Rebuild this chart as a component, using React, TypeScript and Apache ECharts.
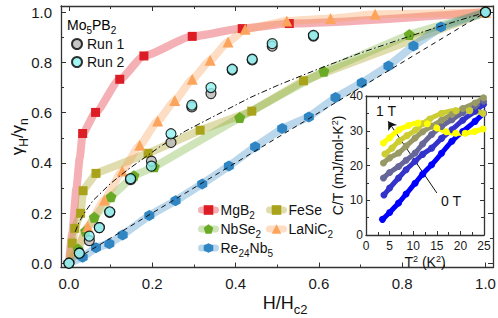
import React, { useEffect, useRef } from 'react';
import * as echarts from 'echarts';

const FONT = "'Liberation Sans', Arial, Helvetica, sans-serif";

// ---------- main panel: gamma_H/gamma_n vs H/Hc2 ----------
const mgb2Pts = [[0.033, 0.517], [0.064, 0.601], [0.122, 0.733], [0.18, 0.826], [0.296, 0.904], [0.416, 0.935], [0.529, 0.955], [1, 1]];
const mgb2Band = [[0, 0], [0.008, 0.12], [0.018, 0.3], [0.026, 0.42]];

const fesePts = [[0.008, 0.08], [0.014, 0.139], [0.028, 0.199], [0.034, 0.289], [0.065, 0.358], [0.19, 0.438], [0.315, 0.53], [0.439, 0.606], [0.563, 0.727], [1, 1]];
const feseBand = [[0, 0]];

const nbse2Pts = [[0.022, 0.057], [0.04, 0.128], [0.061, 0.183], [0.101, 0.265], [0.156, 0.349], [0.205, 0.384], [0.41, 0.581], [0.612, 0.765], [0.817, 0.911], [1, 1]];
const nbse2Band = [[0, 0]];

const lanic2Pts = [[0.045, 0.146], [0.085, 0.252], [0.128, 0.368], [0.17, 0.47], [0.213, 0.567], [0.254, 0.648], [0.296, 0.733], [0.339, 0.809], [0.382, 0.882], [0.423, 0.932], [0.523, 0.965], [0.628, 0.975], [0.735, 0.992], [1, 1]];
const lanic2Band = [[0, 0], [0.02, 0.065]];

const re24nb5Pts = [[0.033, 0.024], [0.065, 0.062], [0.097, 0.078], [0.129, 0.113], [0.193, 0.19], [0.256, 0.249], [0.32, 0.316], [0.384, 0.387], [0.447, 0.464], [0.512, 0.537], [0.576, 0.583], [0.64, 0.66], [0.703, 0.719], [0.767, 0.786], [0.827, 0.866], [0.893, 0.941], [1, 1]];
const re24nb5Band = [[0, 0]];

const run1 = [[0, 0], [0.025, 0.04], [0.049, 0.09], [0.073, 0.142], [0.098, 0.203], [0.148, 0.333], [0.198, 0.407], [0.245, 0.481], [0.295, 0.623], [0.341, 0.676], [0.392, 0.77], [0.44, 0.81], [0.488, 0.865], [0.587, 0.905], [1, 1]];
const run2 = [[0, 0], [0.025, 0.04], [0.049, 0.108], [0.073, 0.142], [0.098, 0.205], [0.148, 0.337], [0.198, 0.387], [0.245, 0.516], [0.295, 0.63], [0.341, 0.7], [0.392, 0.773], [0.44, 0.813], [0.488, 0.875], [0.587, 0.908], [1, 1]];

const dashedLine = [[0, 0], [1, 1]];
const dashDotLine = [[0.015, 0.125], [0.022, 0.155], [0.035, 0.195], [0.058, 0.25], [0.1, 0.318], [0.139, 0.37], [0.218, 0.464], [0.28, 0.527], [0.338, 0.577], [0.435, 0.66], [0.5, 0.708], [0.6, 0.775], [0.7, 0.838], [0.819, 0.905], [0.9, 0.949], [1, 1]];

// ---------- inset: C/T vs T^2 ----------
const insetColors = ['#0000ff', '#3333cc', '#666699', '#999966', '#cccc33', '#ffff00'];
const inset0 = [[3.5, 4.5], [5, 6.5], [6.9, 9.2], [8.5, 11.8], [10.4, 14.9], [12, 17.5], [13.9, 20.2], [16, 23.5], [18.2, 27], [20.5, 29.8], [23.1, 32.7], [24.9, 35]];
const inset1 = [[3.8, 11.5], [5, 13.5], [6.9, 16.4], [8.5, 18.8], [10.4, 21.2], [12, 23.2], [13.9, 25], [16, 27.8], [18.2, 30.3], [20.5, 33], [23.1, 35.6], [24.9, 37.6]];
const inset2 = [[3.7, 16.4], [5, 18], [6.9, 19.7], [8.5, 21.5], [10.4, 23.6], [12, 26.2], [13.9, 28.9], [16, 31.2], [18.2, 33.2], [20.5, 35.2], [23.1, 37.1], [24.9, 38.5]];
const inset3 = [[3.7, 20.7], [5, 22.2], [6.9, 23.6], [8.5, 25.6], [10.4, 27.9], [12, 29.7], [13.9, 31.3], [16, 33], [18.2, 34.7], [20.5, 36.4], [23.1, 38], [24.9, 39.5]];
const inset4 = [[4, 23.3], [5.5, 25], [7, 27], [8.7, 28.6], [10.5, 30.2], [12, 32], [13.5, 33.4], [16, 35], [19, 35.8], [22, 35.8], [24.8, 35]];
const inset5 = [[3.7, 26.5], [5, 28], [7, 30.3], [9, 31.5], [11, 32.2], [13, 32], [15, 30.8], [17, 29.7], [19, 29.3], [21, 29.3], [23, 29.8], [24.8, 30.5]];
const insetSets = [inset0, inset1, inset2, inset3, inset4, inset5];
const arrowFrom = [15.0, 12.1];
const arrowTo = [4.7, 32.7];

const X_MIN = -0.019, X_MAX = 1.018, Y_MIN = -0.017, Y_MAX = 1.025;

const PENTAGON = 'path://M0,-10 L9.51,-3.09 L5.88,8.09 L-5.88,8.09 L-9.51,-3.09 Z';
const HEXAGON = 'path://M0,-10 L8.66,-5 L8.66,5 L0,10 L-8.66,5 L-8.66,-5 Z';

const materials = [
  { name: 'MgB2', pts: mgb2Pts, band: mgb2Band, symbol: 'rect', size: 9, color: '#dc1d25', bandColor: 'rgba(230,80,90,0.45)', smooth: 0.2 },
  { name: 'FeSe', pts: fesePts, band: feseBand, symbol: 'rect', size: 9, color: '#a9a31c', bandColor: 'rgba(170,165,40,0.38)', smooth: false },
  { name: 'NbSe2', pts: nbse2Pts, band: nbse2Band, symbol: PENTAGON, size: 11, color: '#6aaa24', bandColor: 'rgba(110,170,40,0.32)', smooth: false },
  { name: 'LaNiC2', pts: lanic2Pts, band: lanic2Band, symbol: 'triangle', size: 11, color: '#fca45c', bandColor: 'rgba(250,160,90,0.36)', smooth: 0.15 },
  { name: 'Re24Nb5', pts: re24nb5Pts, band: re24nb5Band, symbol: HEXAGON, size: [10, 11], color: '#2f86c2', bandColor: 'rgba(40,130,195,0.32)', smooth: false },
];

const legendNames: Record<string, string> = {
  MgB2: '{b|MgB}{s|2}',
  FeSe: '{b|FeSe}{s| }',
  NbSe2: '{b|NbSe}{s|2}',
  LaNiC2: '{b|LaNiC}{s|2}',
  Re24Nb5: '{b|Re}{s|24}{b|Nb}{s|5}',
};

// subscript: middle-aligned token whose top padding pushes glyphs down by P/2
function richSub(fs: number, color = '#111') {
  const ss = Math.round(fs * 0.7);
  return {
    b: { fontSize: fs, lineHeight: fs + 2, fontFamily: FONT, color },
    s: { fontSize: ss, lineHeight: fs + 2, padding: [Math.round(fs * 0.72), 0, 0, 0], fontFamily: FONT, color },
  };
}
// superscript: bottom padding lifts glyphs by Q/2
function richSup(fs: number, color = '#111') {
  const ss = Math.round(fs * 0.65);
  return {
    b: { fontSize: fs, lineHeight: fs + 2, fontFamily: FONT, color },
    p: { fontSize: ss, lineHeight: fs + 2, padding: [0, 0, Math.round(fs * 0.42), 0], fontFamily: FONT, color },
  };
}

const AX = '#333';
const tickFmt = (v: number) => {
  const k = v / 0.2;
  return Math.abs(k - Math.round(k)) < 1e-6 ? v.toFixed(1) : '';
};

function mainAxis(kind: 'x' | 'y', position: string, showLabel: boolean, extra: any = {}) {
  return {
    type: 'value', gridIndex: 0, position,
    min: kind === 'x' ? X_MIN : Y_MIN, max: kind === 'x' ? X_MAX : Y_MAX, splitNumber: 5,
    axisLine: { show: true, onZero: false, lineStyle: { color: AX, width: 1.3 } },
    axisTick: { show: true, inside: true, length: 5, lineStyle: { color: AX, width: 1 } },
    minorTick: { show: true, splitNumber: 2, length: 3, lineStyle: { color: AX, width: 1 } },
    splitLine: { show: false },
    axisLabel: { show: showLabel, formatter: tickFmt, fontSize: 15, fontFamily: FONT, color: '#1a1a1a', margin: kind === 'x' ? 8 : 9 },
    nameMoveOverlap: false,
    ...extra,
  };
}

function insetAxis(kind: 'x' | 'y', position: string, showLabel: boolean, extra: any = {}) {
  return {
    type: 'value', gridIndex: 1, position, z: 6,
    min: 0, max: kind === 'x' ? 25 : 40, interval: kind === 'x' ? 5 : 10,
    axisLine: { show: true, onZero: false, lineStyle: { color: AX, width: 1.3 } },
    axisTick: { show: true, inside: true, length: 4, lineStyle: { color: AX, width: 1 } },
    minorTick: { show: true, splitNumber: 2, length: 3, lineStyle: { color: AX, width: 1 } },
    splitLine: { show: false },
    axisLabel: { show: showLabel, fontSize: 12, fontFamily: FONT, color: '#1a1a1a', margin: kind === 'x' ? 5 : 3 },
    nameMoveOverlap: false,
    ...extra,
  };
}

function buildOption() {
  const matSeries = materials.map((m) => {
    const data = [
      ...m.band.map((p) => ({ value: p, symbol: 'none' })),
      ...m.pts.map((p) => ({ value: p })),
    ].sort((a, b) => a.value[0] - b.value[0]);
    return {
      type: 'line', name: m.name, xAxisIndex: 0, yAxisIndex: 0, z: 2,
      data, smooth: m.smooth, smoothMonotone: 'x',
      symbol: m.symbol, symbolSize: m.size, showSymbol: true,
      itemStyle: { color: m.color, borderWidth: 0 },
      lineStyle: { color: m.bandColor, width: 8, cap: 'round', join: 'round' },
      emphasis: { disabled: true },
    };
  });

  const runSeries = [
    { name: 'Run 1', data: run1, color: '#b8b8b8' },
    { name: 'Run 2', data: run2, color: '#8ef2f2' },
  ].map((r, i) => ({
    type: 'scatter', name: r.name, xAxisIndex: 0, yAxisIndex: 0, z: 4 + i,
    data: r.data, symbol: 'circle', symbolSize: 10,
    itemStyle: { color: r.color, borderColor: '#000', borderWidth: 1.2 },
    emphasis: { disabled: true },
  }));

  const refSeries = [
    {
      type: 'line', name: 'dashed', xAxisIndex: 0, yAxisIndex: 0, z: 3, data: dashedLine,
      symbol: 'none', lineStyle: { color: '#111', width: 1, type: [5, 4] }, emphasis: { disabled: true },
    },
    {
      type: 'line', name: 'dashdot', xAxisIndex: 0, yAxisIndex: 0, z: 3, data: dashDotLine, smooth: false,
      symbol: 'none', lineStyle: { color: '#111', width: 1, type: [6, 2.5, 1.5, 2.5] }, emphasis: { disabled: true },
    },
  ];

  const insetSeries = insetSets.map((d, i) => ({
    type: 'line', name: 'inset' + i, xAxisIndex: 2, yAxisIndex: 2, z: 8,
    data: d, smooth: 0.3, symbol: 'circle', symbolSize: 7,
    itemStyle: { color: insetColors[i] },
    lineStyle: { color: insetColors[i], width: 5, cap: 'round' },
    emphasis: { disabled: true },
    ...(i === insetSets.length - 1
      ? {
          markLine: {
            silent: true, symbol: ['none', 'arrow'], symbolSize: 8,
            label: { show: false },
            lineStyle: { color: '#111', width: 1, type: 'solid' },
            emphasis: { disabled: true },
            data: [[{ coord: arrowFrom }, { coord: arrowTo }]],
          },
        }
      : {}),
  }));

  const legendCommon = {
    orient: 'vertical', padding: 0, itemWidth: 14, itemHeight: 12, itemGap: -1,
    selectedMode: false,
    lineStyle: { width: 7 },
    formatter: (n: string) => legendNames[n] || n,
    textStyle: { fontSize: 14, fontFamily: FONT, color: '#111', rich: richSub(14) },
  };

  return {
    animation: false,
    backgroundColor: '#fff',
    grid: [
      { left: 61, right: 5, top: 6, bottom: 50.5, outerBoundsMode: 'none', containLabel: false },
      { left: 366, top: 96, width: 118, height: 139, show: true, backgroundColor: '#fff', borderWidth: 0, z: 5, outerBoundsMode: 'none', containLabel: false },
    ],
    xAxis: [
      mainAxis('x', 'bottom', true, {
        name: '{b|H/H}{s|c2}', nameLocation: 'middle', nameGap: 25,
        nameTextStyle: { rich: richSub(18), padding: [0, 0, 0, 16] },
      }),
      mainAxis('x', 'top', false),
      insetAxis('x', 'bottom', true, {
        name: '{b|T}{p|2}{b| (K}{p|2}{b|)}', nameLocation: 'middle', nameGap: 19,
        nameTextStyle: { rich: richSup(14) },
      }),
      insetAxis('x', 'top', false),
    ],
    yAxis: [
      mainAxis('y', 'left', true, {
        name: '{b|γ}{s|H}{b|/γ}{s|n}', nameLocation: 'middle', nameGap: 34,
        nameTextStyle: { rich: richSub(17) },
      }),
      mainAxis('y', 'right', false),
      insetAxis('y', 'left', true, {
        name: '{b|C/T (mJ/mol-K}{p|2}{b|)}', nameLocation: 'middle', nameGap: 20,
        nameTextStyle: { rich: richSup(14) },
      }),
      insetAxis('y', 'right', false),
    ],
    legend: [
      {
        orient: 'vertical', padding: 0, left: 71, top: 37, itemWidth: 10, itemHeight: 10, itemGap: 4,
        selectedMode: false, data: ['Run 1', 'Run 2'],
        textStyle: { fontSize: 14, fontFamily: FONT, color: '#111' },
      },
      { ...legendCommon, left: 198, top: 200, data: ['MgB2', 'NbSe2', 'Re24Nb5'] },
      { ...legendCommon, left: 266, top: 200, data: ['FeSe', 'LaNiC2'] },
    ],
    graphic: [
      { type: 'text', left: 67, top: 15, z: 20, style: { text: '{b|Mo}{s|5}{b|PB}{s|2}', rich: richSub(14), fontFamily: FONT } },
      { type: 'text', left: 376, top: 104, z: 20, style: { text: '1 T', fontSize: 14, fontFamily: FONT, fill: '#111' } },
      { type: 'text', left: 441, top: 194, z: 20, style: { text: '0 T', fontSize: 14, fontFamily: FONT, fill: '#111' } },
    ],
    series: [...matSeries, ...refSeries, ...runSeries, ...insetSeries],
  };
}

export default function App() {
  const ref = useRef<HTMLDivElement>(null);
  useEffect(() => {
    if (!ref.current) return;
    const chart = echarts.init(ref.current, undefined, { renderer: 'svg' });
    chart.setOption(buildOption() as any);
    return () => chart.dispose();
  }, []);
  return <div ref={ref} style={{ position: 'absolute', left: 0, top: 0, width: 498, height: 318 }} />;
}
